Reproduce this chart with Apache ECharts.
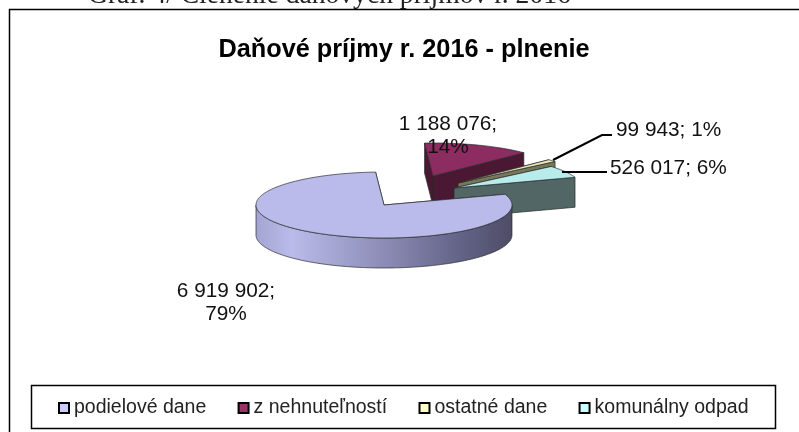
<!DOCTYPE html>
<html><head><meta charset="utf-8">
<style>html,body{margin:0;padding:0;background:#fff}#c{width:799px;height:432px}</style>
<script src="https://cdn.jsdelivr.net/npm/echarts@6/dist/echarts.min.js"></script>
</head><body><div id="c"></div>
<script>
var caption = 'Graf. 4/ Členenie daňových príjmov r. 2016';
var chartTitle = 'Daňové príjmy r. 2016 - plnenie';
var categories = ['podielové dane', 'z nehnuteľností', 'ostatné dane', 'komunálny odpad'];
var values = [6919902, 1188076, 99943, 526017];

// layout and style
var CX = 384, CY = 205, RX = 128, RY = 33, DEPTH = 30, FIRST_ANGLE = 19;
var offsets = [[0, 0], [49, -29], [74, -22], [70, -17]];
var legendColors = ['#CCCCFF', '#993366', '#FFFFCC', '#CCFFFF'];
var topColors = ['#BBBBEB', '#8C2C60', '#E8E8BC', '#B8ECEC'];
var wallColors = ['#8A8AB0', '#4A1832', '#77775A', '#526666'];
var drawOrder = [3, 0, 1, 2];
var labelPos = [[226, 303, 'center'], [448, 136, 'center'], [616, 130, 'left'], [610, 168, 'left']];
var leaders = [null, null, [[553, 160], [602, 135], [612, 135]], [[562, 172], [607, 172]]];
var LABEL_FONT = '20.8px "Liberation Sans", Arial, sans-serif';
var total = values.reduce(function (a, b) { return a + b; }, 0);

function fmt(v) { return String(v).replace(/\B(?=(\d{3})+(?!\d))/g, ' '); }
function labelText(i) {
  var pct = Math.round(values[i] / total * 100) + '%';
  var n = fmt(values[i]) + ';';
  return labelPos[i][2] === 'center' ? n + '\n' + pct : n + ' ' + pct;
}
function renderSlice(i) {
  return function (params, api) {
    var v = api.value(0), before = 0;
    for (var k = 0; k < i; k++) before += values[k];
    var a0 = FIRST_ANGLE - before / total * 360;
    var a1 = a0 - v / total * 360;
    var ox = CX + offsets[i][0], oy = CY + offsets[i][1];
    function pt(a, d) {
      var r = a * Math.PI / 180;
      return [ox + RX * Math.cos(r), oy - RY * Math.sin(r) + (d || 0)];
    }
    var steps = Math.max(2, Math.ceil((a0 - a1)));
    var rim = [], front = [], frontBottom = [];
    for (var s = 0; s <= steps; s++) {
      var a = a0 + (a1 - a0) * s / steps;
      rim.push(pt(a));
      if (Math.sin(a * Math.PI / 180) <= 0.0001) { front.push(pt(a)); frontBottom.unshift(pt(a, DEPTH)); }
    }
    var wall = wallColors[i];
    function poly(points, fill) {
      return { type: 'polygon', shape: { points: points }, style: { fill: fill, stroke: '#2a2a2a', lineWidth: 0.7 } };
    }
    var apex = [ox, oy], apexB = [ox, oy + DEPTH];
    function face(a) { return poly([apex, pt(a), pt(a, DEPTH), apexB], wall); }
    var backFirst = Math.sin(a0 * Math.PI / 180) > Math.sin(a1 * Math.PI / 180) ? [a0, a1] : [a1, a0];
    var kids = [face(backFirst[0]), face(backFirst[1])];
    if (front.length > 1) {
      kids.push(poly(front.concat(frontBottom), {
        type: 'linear', x: 0, y: 0, x2: 1, y2: 0,
        colorStops: [
          { offset: 0, color: '#A4A4D2' }, { offset: 0.14, color: '#BBBBEB' },
          { offset: 0.5, color: '#8C8CB6' }, { offset: 0.78, color: '#65658A' },
          { offset: 1, color: '#4D4D66' }]
      }));
    }
    kids.push(poly([apex].concat(rim), topColors[i]));
    if (leaders[i]) {
      kids.push({ type: 'polyline', shape: { points: leaders[i] }, style: { fill: null, stroke: '#000', lineWidth: 2 } });
    }
    kids.push({
      type: 'text', x: labelPos[i][0], y: labelPos[i][1],
      style: { text: labelText(i), font: LABEL_FONT, fill: '#111', align: labelPos[i][2], verticalAlign: 'middle', lineHeight: 23.5 }
    });
    return { type: 'group', children: kids };
  };
}

var chart = echarts.init(document.getElementById('c'), null, { renderer: 'canvas' });
chart.setOption({
  animation: false,
  backgroundColor: '#fff',
  title: {
    text: chartTitle, left: 399, top: 33, textAlign: 'center',
    textStyle: { fontFamily: '"Liberation Sans", Arial', fontWeight: 'bold', fontSize: 25.3, color: '#000' }
  },
  legend: {
    left: 53, top: 393, itemWidth: 10, itemHeight: 10, itemGap: 31.3, icon: 'rect',
    textStyle: { fontFamily: '"Liberation Sans", Arial', fontSize: 19.5, color: '#222' },
    data: categories.map(function (n, i) {
      return { name: n, itemStyle: { color: legendColors[i], borderColor: '#000', borderWidth: 2 } };
    })
  },
  graphic: [
    { type: 'text', x: 88, y: -18, silent: true, style: { text: caption, font: '27.6px "Liberation Serif", serif', fill: '#222' } },
    { type: 'polyline', silent: true, shape: { points: [[9.5, 432], [9.5, 9.5], [799, 9.5]] }, style: { fill: null, stroke: '#000', lineWidth: 1.5 } },
    { type: 'rect', silent: true, shape: { x: 31.5, y: 385.5, width: 744, height: 43 }, style: { fill: null, stroke: '#000', lineWidth: 1.5 } }
  ],
  series: categories.map(function (n, i) {
    return {
      type: 'custom', name: n, coordinateSystem: 'none', z: 2 + drawOrder[i], silent: true,
      itemStyle: { color: legendColors[i] },
      data: [[values[i]]],
      renderItem: renderSlice(i)
    };
  })
});
</script></body></html>
